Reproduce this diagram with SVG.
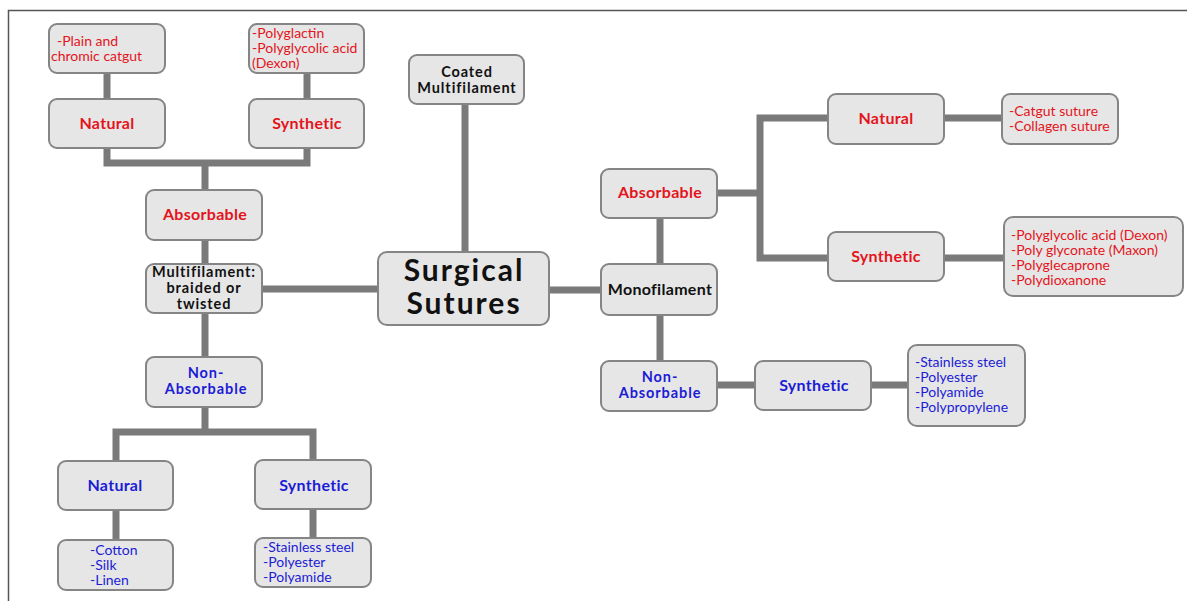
<svg xmlns="http://www.w3.org/2000/svg" width="1187" height="601" viewBox="0 0 1187 601">
<style>
.box{fill:#e6e6e6;stroke:#858585;stroke-width:2}
.con{fill:none;stroke:#7a7a7a;stroke-width:7;stroke-linejoin:miter;stroke-linecap:butt}
.lbl{font-family:Lato,"Liberation Sans",sans-serif;font-weight:bold;font-size:16px;letter-spacing:0.3px;text-anchor:middle}
.ml{font-size:14.5px;letter-spacing:0.9px}
.lst{font-family:Lato,"Liberation Sans",sans-serif;font-size:14px}
.red{fill:#e4141c}
.blue{fill:#1c1cd6}
.blk{fill:#111}
</style>
<rect x="0" y="0" width="1187" height="601" fill="#fff"/>
<path d="M8.5 601 V10.5 H1187" fill="none" stroke="#555" stroke-width="1.5"/>
<g id="connectors">
<path class="con" d="M107 148 V163 H307 V148"/>
<path class="con" d="M107 73 V99"/>
<path class="con" d="M307 73 V99"/>
<path class="con" d="M205 163 V190"/>
<path class="con" d="M205 240 V264"/>
<path class="con" d="M205 313 V357"/>
<path class="con" d="M205 407 V432"/>
<path class="con" d="M116 461 V432 H313 V460"/>
<path class="con" d="M116 510 V540"/>
<path class="con" d="M313 509 V538"/>
<path class="con" d="M262 289 H378"/>
<path class="con" d="M465 104 V252"/>
<path class="con" d="M549 290 H601"/>
<path class="con" d="M660 218 V264"/>
<path class="con" d="M660 315 V361"/>
<path class="con" d="M717 193 H760"/>
<path class="con" d="M828 118 H760 V258 H828"/>
<path class="con" d="M944 118 H1002"/>
<path class="con" d="M944 258 H1004"/>
<path class="con" d="M717 385 H755"/>
<path class="con" d="M871 385 H908"/>
</g>
<g id="n_plain"><rect class="box" x="49" y="24" width="116" height="49" rx="8"/>
<text class="lst red"><tspan x="57" y="46">-Plain and</tspan><tspan x="51" y="61">chromic catgut</tspan></text></g>
<g id="n_polyglactin"><rect class="box" x="249" y="24" width="115" height="49" rx="8"/>
<text class="lst red"><tspan x="252" y="38">-Polyglactin</tspan><tspan x="252" y="53">-Polyglycolic acid</tspan><tspan x="252" y="68">(Dexon)</tspan></text></g>
<g id="n_natural_l"><rect class="box" x="49" y="99" width="116" height="49" rx="8"/>
<text class="lbl red" x="107" y="129">Natural</text></g>
<g id="n_synthetic_l"><rect class="box" x="249" y="99" width="115" height="49" rx="8"/>
<text class="lbl red" x="307" y="129">Synthetic</text></g>
<g id="n_absorbable_l"><rect class="box" x="146" y="190" width="116" height="50" rx="8"/>
<text class="lbl red" x="205" y="220">Absorbable</text></g>
<g id="n_multifilament"><rect class="box" x="146" y="264" width="116" height="49" rx="8"/>
<text class="lbl ml blk"><tspan x="204" y="277">Multifilament:</tspan><tspan x="204" y="293">braided or</tspan><tspan x="204" y="309">twisted</tspan></text></g>
<g id="n_nonabs_l"><rect class="box" x="146" y="357" width="116" height="50" rx="8"/>
<text class="lbl ml blue"><tspan x="206" y="378">Non-</tspan><tspan x="206" y="394">Absorbable</tspan></text></g>
<g id="n_natural_lb"><rect class="box" x="58" y="461" width="115" height="49" rx="8"/>
<text class="lbl blue" x="115" y="491">Natural</text></g>
<g id="n_synthetic_lb"><rect class="box" x="255" y="460" width="116" height="49" rx="8"/>
<text class="lbl blue" x="314" y="491">Synthetic</text></g>
<g id="n_cotton"><rect class="box" x="58" y="540" width="115" height="50" rx="8"/>
<text class="lst blue"><tspan x="90" y="555">-Cotton</tspan><tspan x="90" y="570">-Silk</tspan><tspan x="90" y="585">-Linen</tspan></text></g>
<g id="n_steel_l"><rect class="box" x="255" y="538" width="116" height="49" rx="8"/>
<text class="lst blue"><tspan x="263" y="552">-Stainless steel</tspan><tspan x="263" y="567">-Polyester</tspan><tspan x="263" y="582">-Polyamide</tspan></text></g>
<g id="n_coated"><rect class="box" x="409" y="55" width="115" height="49" rx="8"/>
<text class="lbl ml blk"><tspan x="467" y="77">Coated</tspan><tspan x="467" y="93">Multifilament</tspan></text></g>
<g id="n_surgical"><rect class="box" x="378" y="252" width="171" height="73" rx="9"/>
<text class="lbl blk" style="font-size:30px;letter-spacing:2px"><tspan x="464" y="281">Surgical</tspan><tspan x="464" y="314">Sutures</tspan></text></g>
<g id="n_monofilament"><rect class="box" x="601" y="264" width="116" height="51" rx="8"/>
<text class="lbl blk" x="660" y="295">Monofilament</text></g>
<g id="n_absorbable_r"><rect class="box" x="601" y="169" width="116" height="49" rx="8"/>
<text class="lbl red" x="660" y="198">Absorbable</text></g>
<g id="n_natural_r"><rect class="box" x="828" y="94" width="116" height="50" rx="8"/>
<text class="lbl red" x="886" y="124">Natural</text></g>
<g id="n_synthetic_r"><rect class="box" x="828" y="232" width="116" height="49" rx="8"/>
<text class="lbl red" x="886" y="262">Synthetic</text></g>
<g id="n_catgut"><rect class="box" x="1002" y="94" width="116" height="50" rx="8"/>
<text class="lst red"><tspan x="1009" y="116">-Catgut suture</tspan><tspan x="1009" y="131">-Collagen suture</tspan></text></g>
<g id="n_polyglycolic"><rect class="box" x="1004" y="217" width="179" height="79" rx="9"/>
<text class="lst red"><tspan x="1011" y="240">-Polyglycolic acid (Dexon)</tspan><tspan x="1011" y="255">-Poly glyconate (Maxon)</tspan><tspan x="1011" y="270">-Polyglecaprone</tspan><tspan x="1011" y="285">-Polydioxanone</tspan></text></g>
<g id="n_nonabs_r"><rect class="box" x="601" y="361" width="116" height="50" rx="8"/>
<text class="lbl ml blue"><tspan x="660" y="382">Non-</tspan><tspan x="660" y="398">Absorbable</tspan></text></g>
<g id="n_synthetic_rb"><rect class="box" x="755" y="361" width="116" height="49" rx="8"/>
<text class="lbl blue" x="814" y="391">Synthetic</text></g>
<g id="n_steel_r"><rect class="box" x="908" y="345" width="117" height="81" rx="9"/>
<text class="lst blue"><tspan x="915" y="367">-Stainless steel</tspan><tspan x="915" y="382">-Polyester</tspan><tspan x="915" y="397">-Polyamide</tspan><tspan x="915" y="412">-Polypropylene</tspan></text></g>
</svg>
